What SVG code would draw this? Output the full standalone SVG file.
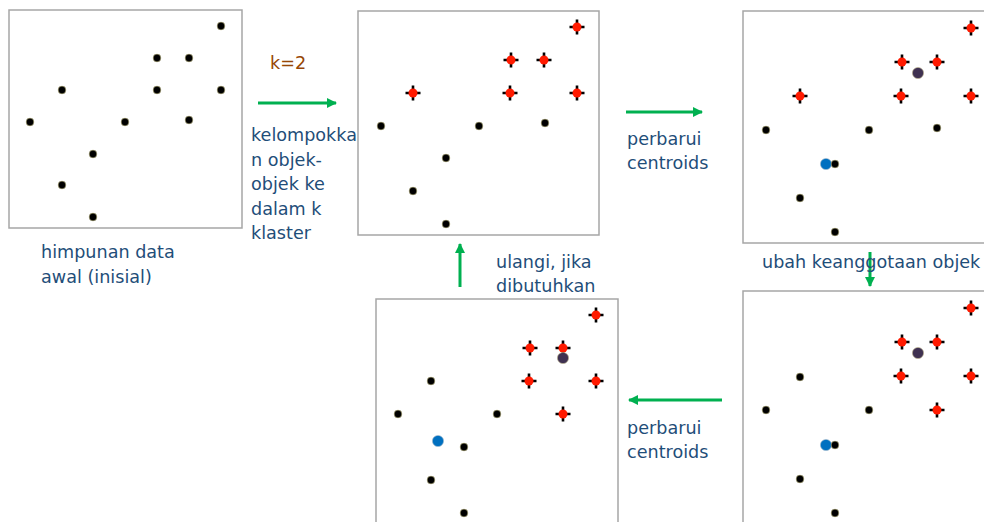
<svg xmlns="http://www.w3.org/2000/svg" width="984" height="522" viewBox="0 0 984 522">
<style>
.panel{fill:#fff;stroke:#a6a6a6;stroke-width:1.5}
.pt{fill:#000;stroke:#c9c58f;stroke-width:0.6}
.cr{stroke:#000;stroke-width:2.6}
.rd{fill:#ff1a00}
.cp{fill:#3f3151;stroke:#b8b08a;stroke-width:0.6}
.cb{fill:#0070c0;stroke:#9fb7c9;stroke-width:0.6}
.lbl{font-family:"DejaVu Sans",Verdana,sans-serif;font-size:17.6px;fill:#1f4e79}
.k{font-family:"DejaVu Sans",Verdana,sans-serif;font-size:17.6px;fill:#974706}
.ar{stroke:#00b050;stroke-width:3;fill:none}
</style>
<defs>
<g id="p"><circle r="3.9" class="pt"/></g>
<g id="r"><path d="M0,-7.5V7.5M-7.5,0H7.5" class="cr"/><circle r="4.5" class="rd"/></g>
<marker id="ah" viewBox="0 0 10 10" refX="9" refY="5" markerWidth="3.4" markerHeight="3.4" markerUnits="strokeWidth" orient="auto"><path d="M0,0L10,5L0,10z" fill="#00b050"/></marker>
</defs>

<g id="panel1">
<rect class="panel" x="9" y="10" width="233" height="218"/>
<use href="#p" x="221" y="26"/><use href="#p" x="157" y="58"/><use href="#p" x="189" y="58"/>
<use href="#p" x="62" y="90"/><use href="#p" x="157" y="90"/><use href="#p" x="221" y="90"/>
<use href="#p" x="30" y="122"/><use href="#p" x="125" y="122"/><use href="#p" x="189" y="120"/>
<use href="#p" x="93" y="154"/><use href="#p" x="62" y="185"/><use href="#p" x="93" y="217"/>
</g>

<g id="panel2">
<rect class="panel" x="358" y="11" width="241" height="224"/>
<use href="#r" x="577" y="27"/><use href="#r" x="511" y="60"/><use href="#r" x="544" y="60"/>
<use href="#r" x="413" y="93"/><use href="#r" x="510" y="93"/><use href="#r" x="577" y="93"/>
<use href="#p" x="381" y="126"/><use href="#p" x="479" y="126"/><use href="#p" x="545" y="123"/>
<use href="#p" x="446" y="158"/><use href="#p" x="413" y="191"/><use href="#p" x="446" y="224"/>
</g>

<g id="panel3">
<rect class="panel" x="743" y="11" width="250" height="232"/>
<use href="#r" x="971" y="28"/><use href="#r" x="902" y="62"/><use href="#r" x="937" y="62"/>
<use href="#r" x="800" y="96"/><use href="#r" x="901" y="96"/><use href="#r" x="971" y="96"/>
<circle class="cp" cx="918" cy="73" r="5.6"/>
<use href="#p" x="766" y="130"/><use href="#p" x="869" y="130"/><use href="#p" x="937" y="128"/>
<circle class="cb" cx="826" cy="164" r="5.6"/><use href="#p" x="835" y="164"/>
<use href="#p" x="800" y="198"/><use href="#p" x="835" y="232"/>
</g>

<g id="panel4">
<rect class="panel" x="743" y="291" width="250" height="240"/>
<use href="#r" x="971" y="308"/><use href="#r" x="902" y="342"/><use href="#r" x="937" y="342"/>
<use href="#r" x="901" y="376"/><use href="#r" x="971" y="376"/><use href="#r" x="937" y="410"/>
<circle class="cp" cx="918" cy="353" r="5.6"/>
<use href="#p" x="800" y="377"/><use href="#p" x="766" y="410"/><use href="#p" x="869" y="410"/>
<circle class="cb" cx="826" cy="445" r="5.6"/><use href="#p" x="835" y="445"/>
<use href="#p" x="800" y="479"/><use href="#p" x="835" y="513"/>
</g>

<g id="panel5">
<rect class="panel" x="376" y="299" width="242" height="240"/>
<use href="#r" x="596" y="315"/><use href="#r" x="530" y="348"/><use href="#r" x="563" y="348"/>
<use href="#r" x="529" y="381"/><use href="#r" x="596" y="381"/><use href="#r" x="563" y="414"/>
<circle class="cp" cx="563" cy="358" r="5.6"/>
<use href="#p" x="431" y="381"/><use href="#p" x="398" y="414"/><use href="#p" x="497" y="414"/>
<circle class="cb" cx="438" cy="441" r="5.6"/><use href="#p" x="464" y="447"/>
<use href="#p" x="431" y="480"/><use href="#p" x="464" y="513"/>
</g>

<g id="connectors">
<path class="ar" d="M258,103H336" marker-end="url(#ah)"/>
<path class="ar" d="M626,112H702" marker-end="url(#ah)"/>
<path class="ar" d="M870,252V286" marker-end="url(#ah)"/>
<path class="ar" d="M722,400H629" marker-end="url(#ah)"/>
<path class="ar" d="M460,287V244" marker-end="url(#ah)"/>
</g>

<g id="labels">
<text class="k" x="270" y="69">k=2</text>
<text class="lbl" x="251"><tspan x="251" y="141">kelompokka</tspan><tspan x="251" y="166">n objek-</tspan><tspan x="251" y="190">objek ke</tspan><tspan x="251" y="215">dalam k</tspan><tspan x="251" y="239">klaster</tspan></text>
<text class="lbl"><tspan x="41" y="258">himpunan data</tspan><tspan x="41" y="283">awal (inisial)</tspan></text>
<text class="lbl"><tspan x="627" y="145">perbarui</tspan><tspan x="627" y="169">centroids</tspan></text>
<text class="lbl" x="762" y="268">ubah keanggotaan objek</text>
<text class="lbl"><tspan x="496" y="268">ulangi, jika</tspan><tspan x="496" y="292">dibutuhkan</tspan></text>
<text class="lbl"><tspan x="627" y="434">perbarui</tspan><tspan x="627" y="458">centroids</tspan></text>
</g>
</svg>
